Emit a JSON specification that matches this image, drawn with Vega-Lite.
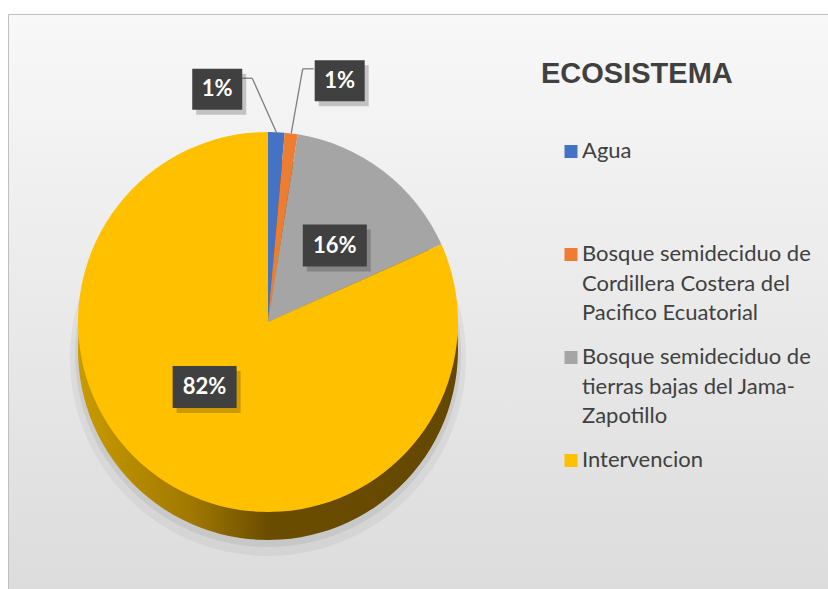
{
  "$schema": "https://vega.github.io/schema/vega-lite/v6.json",
  "width": 822,
  "height": 616,
  "autosize": {"type": "none"},
  "padding": {"left": 8, "top": 14, "right": 0, "bottom": 0},
  "background": "#ffffff",
  "view": {
    "stroke": "#bfbfbf",
    "strokeWidth": 1,
    "fill": {"gradient": "linear", "x1": 0, "y1": 0, "x2": 0, "y2": 1, "stops": [{"offset": 0, "color": "#f8f8f8"}, {"offset": 1, "color": "#dadada"}]}
  },
  "data": {
    "values": [
      {"ecosistema": "Agua", "valor": 0.014},
      {"ecosistema": "Bosque semideciduo de Cordillera Costera del Pacifico Ecuatorial", "valor": 0.011},
      {"ecosistema": "Bosque semideciduo de tierras bajas del Jama-Zapotillo", "valor": 0.158},
      {"ecosistema": "Intervencion", "valor": 0.817}
    ]
  },
  "transform": [
    {"stack": "valor", "groupby": [], "sort": [{"field": "ecosistema", "order": "ascending"}], "as": ["t0", "t1"]},
    {"calculate": "(datum.t0 + datum.t1) / 2", "as": "tm"},
    {"calculate": "sin(2 * PI * datum.tm)", "as": "ux"},
    {"calculate": "cos(2 * PI * datum.tm)", "as": "uy"}
  ],
  "layer": [
    {
      "mark": {"type": "arc", "radius": 198, "xOffset": -151, "yOffset": 36, "fill": "#7f7f7f", "opacity": 0.1},
      "encoding": {
        "theta": {"field": "t0", "type": "quantitative", "scale": {"domain": [0, 1]}, "stack": null},
        "theta2": {"field": "t1"}
      }
    },
    {
      "mark": {"type": "arc", "radius": 193, "xOffset": -151, "yOffset": 32, "fill": "#7f7f7f", "opacity": 0.15},
      "encoding": {
        "theta": {"field": "t0", "type": "quantitative", "scale": {"domain": [0, 1]}, "stack": null},
        "theta2": {"field": "t1"}
      }
    },
    {
      "mark": {
        "type": "arc", "radius": 190, "xOffset": -151, "yOffset": 28,
        "fill": {"gradient": "linear", "x1": 0, "y1": 0, "x2": 1, "y2": 0, "stops": [{"offset": 0, "color": "#c99b00"}, {"offset": 0.3, "color": "#a07800"}, {"offset": 0.5, "color": "#6b4d00"}, {"offset": 1, "color": "#644800"}]}
      },
      "encoding": {
        "theta": {"field": "t0", "type": "quantitative", "scale": {"domain": [0, 1]}, "stack": null},
        "theta2": {"field": "t1"}
      }
    },
    {
      "mark": {"type": "arc", "radius": 190, "xOffset": -151},
      "encoding": {
        "theta": {"field": "t0", "type": "quantitative", "scale": {"domain": [0, 1]}, "stack": null},
        "theta2": {"field": "t1"},
        "color": {
          "field": "ecosistema",
          "type": "nominal",
          "scale": {"range": ["#4472c4", "#ed7d31", "#a5a5a5", "#ffc000"]},
          "legend": {
            "orient": "none",
            "legendX": 533,
            "legendY": 46,
            "title": "ECOSISTEMA",
            "titleFont": "Liberation Sans",
            "titleFontSize": 29,
            "titleFontWeight": "bold",
            "titleColor": "#404040",
            "titleLimit": 400,
            "titlePadding": 41,
            "labelFont": "Lato",
            "labelFontSize": 22,
            "labelColor": "#404040",
            "labelLimit": 400,
            "labelOffset": 0,
            "symbolType": "square",
            "symbolSize": 169,
            "symbolStrokeWidth": 0,
            "symbolOffset": 19,
            "gridAlign": "all",
            "rowPadding": 12,
            "labelBaseline": "top",
            "labelExpr": "datum.label == 'Bosque semideciduo de Cordillera Costera del Pacifico Ecuatorial' ? ['Bosque semideciduo de', 'Cordillera Costera del', 'Pacifico Ecuatorial'] : datum.label == 'Bosque semideciduo de tierras bajas del Jama-Zapotillo' ? ['Bosque semideciduo de', 'tierras bajas del Jama-', 'Zapotillo'] : datum.label",
            "encode": {
              "labels": {"update": {"lineHeight": {"value": 29.5}}},
              "symbols": {"update": {"y": {"value": 21.5}}}
            }
          }
        }
      }
    },
    {
      "transform": [{"filter": "datum.valor > 0.05"}],
      "encoding": {
        "x": {"field": "ux", "type": "quantitative", "scale": {"domain": [-2.6, 5.62], "nice": false, "zero": false}, "axis": null},
        "y": {"field": "uy", "type": "quantitative", "scale": {"domain": [-3.08, 3.08], "nice": false, "zero": false}, "axis": null}
      },
      "layer": [
        {"transform": [{"filter": "datum.valor < 0.5"}], "mark": {"type": "point", "shape": "M-1,-0.656H1V0.656H-1Z", "size": 4096, "filled": true, "color": "#000000", "opacity": 0.2, "xOffset": 10, "yOffset": 8}},
        {"transform": [{"filter": "datum.valor < 0.5"}], "mark": {"type": "point", "shape": "M-1,-0.656H1V0.656H-1Z", "size": 4096, "filled": true, "color": "#404040", "opacity": 1, "xOffset": 6, "yOffset": 3}},
        {"transform": [{"filter": "datum.valor < 0.5"}], "mark": {"type": "text", "xOffset": 6, "yOffset": 3, "font": "Lato", "fontWeight": "bold", "fontSize": 22, "fill": "#ffffff"}, "encoding": {"text": {"field": "valor", "type": "quantitative", "format": ".0%"}}},
        {"transform": [{"filter": "datum.valor > 0.5"}], "mark": {"type": "point", "shape": "M-1,-0.656H1V0.656H-1Z", "size": 4096, "filled": true, "color": "#000000", "opacity": 0.2, "xOffset": -5, "yOffset": -14}},
        {"transform": [{"filter": "datum.valor > 0.5"}], "mark": {"type": "point", "shape": "M-1,-0.656H1V0.656H-1Z", "size": 4096, "filled": true, "color": "#404040", "opacity": 1, "xOffset": -9, "yOffset": -19}},
        {"transform": [{"filter": "datum.valor > 0.5"}], "mark": {"type": "text", "xOffset": -9, "yOffset": -19, "font": "Lato", "fontWeight": "bold", "fontSize": 22, "fill": "#ffffff"}, "encoding": {"text": {"field": "valor", "type": "quantitative", "format": ".0%"}}}
      ]
    },
    {
      "transform": [
        {"filter": "datum.ecosistema == 'Agua'"},
        {"calculate": "2.33 * datum.ux", "as": "lx"},
        {"calculate": "2.33 * datum.uy", "as": "ly"},
        {"calculate": "1.9 * datum.ux", "as": "ex"},
        {"calculate": "1.9 * datum.uy", "as": "ey"}
      ],
      "encoding": {
        "x": {"field": "lx", "type": "quantitative", "scale": {"domain": [-2.6, 5.62], "nice": false, "zero": false}, "axis": null},
        "y": {"field": "ly", "type": "quantitative", "scale": {"domain": [-3.08, 3.08], "nice": false, "zero": false}, "axis": null}
      },
      "layer": [
        {"mark": {"type": "rule", "color": "#7f7f7f", "strokeWidth": 1.3, "x2Offset": -26, "y2Offset": -11}, "encoding": {"x": {"field": "ex", "type": "quantitative"}, "y": {"field": "ey", "type": "quantitative"}, "x2": {"field": "lx"}, "y2": {"field": "ly"}}},
        {"mark": {"type": "rule", "color": "#7f7f7f", "strokeWidth": 1.3, "xOffset": -36, "x2Offset": -26, "yOffset": -11, "y2Offset": -11}, "encoding": {"x2": {"field": "lx"}, "y2": {"field": "ly"}}},
        {"mark": {"type": "point", "shape": "M-1,-0.82H1V0.82H-1Z", "size": 2500, "filled": true, "color": "#000000", "opacity": 0.2, "xOffset": -57, "yOffset": 5}},
        {"mark": {"type": "point", "shape": "M-1,-0.82H1V0.82H-1Z", "size": 2500, "filled": true, "color": "#404040", "opacity": 1, "xOffset": -61}},
        {"mark": {"type": "text", "xOffset": -61, "font": "Lato", "fontWeight": "bold", "fontSize": 22, "fill": "#ffffff"}, "encoding": {"text": {"field": "valor", "type": "quantitative", "format": ".0%"}}}
      ]
    },
    {
      "transform": [
        {"filter": "datum.ecosistema == 'Bosque semideciduo de Cordillera Costera del Pacifico Ecuatorial'"},
        {"calculate": "2.43 * datum.ux", "as": "lx"},
        {"calculate": "2.43 * datum.uy", "as": "ly"},
        {"calculate": "1.9 * datum.ux", "as": "ex"},
        {"calculate": "1.9 * datum.uy", "as": "ey"}
      ],
      "encoding": {
        "x": {"field": "lx", "type": "quantitative", "scale": {"domain": [-2.6, 5.62], "nice": false, "zero": false}, "axis": null},
        "y": {"field": "ly", "type": "quantitative", "scale": {"domain": [-3.08, 3.08], "nice": false, "zero": false}, "axis": null}
      },
      "layer": [
        {"mark": {"type": "rule", "color": "#7f7f7f", "strokeWidth": 1.3, "x2Offset": 5, "y2Offset": -12}, "encoding": {"x": {"field": "ex", "type": "quantitative"}, "y": {"field": "ey", "type": "quantitative"}, "x2": {"field": "lx"}, "y2": {"field": "ly"}}},
        {"mark": {"type": "rule", "color": "#7f7f7f", "strokeWidth": 1.3, "xOffset": 5, "x2Offset": 16, "yOffset": -12, "y2Offset": -12}, "encoding": {"x2": {"field": "lx"}, "y2": {"field": "ly"}}},
        {"mark": {"type": "point", "shape": "M-1,-0.82H1V0.82H-1Z", "size": 2500, "filled": true, "color": "#000000", "opacity": 0.2, "xOffset": 46, "yOffset": 5}},
        {"mark": {"type": "point", "shape": "M-1,-0.82H1V0.82H-1Z", "size": 2500, "filled": true, "color": "#404040", "opacity": 1, "xOffset": 42}},
        {"mark": {"type": "text", "xOffset": 42, "font": "Lato", "fontWeight": "bold", "fontSize": 22, "fill": "#ffffff"}, "encoding": {"text": {"field": "valor", "type": "quantitative", "format": ".0%"}}}
      ]
    }
  ]
}
